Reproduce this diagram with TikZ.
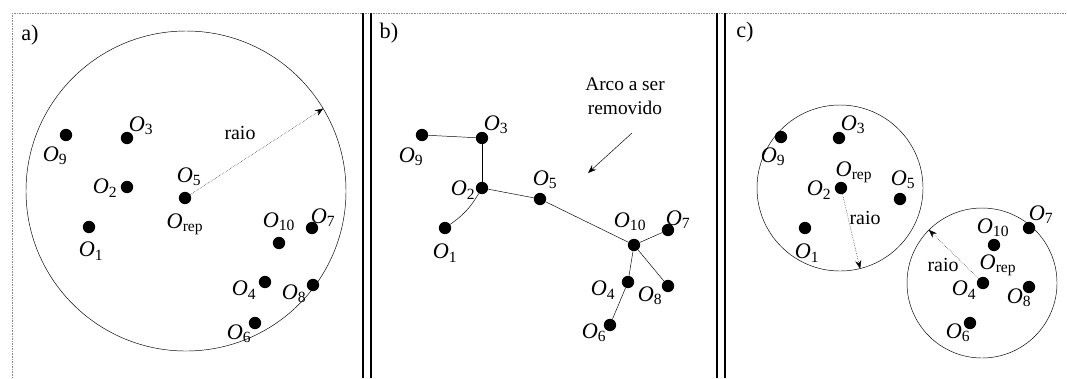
\documentclass[tikz,border=0pt]{standalone}
\usepackage{fontspec}
\setmainfont{Liberation Serif}
\usetikzlibrary{arrows.meta, positioning}
\newcommand{\objl}[1]{\textit{O}\textsubscript{#1}}
\tikzset{
  dot/.style={circle, fill=black, inner sep=0pt, minimum size=3.7mm},
  region/.style={circle, draw, thin, inner sep=0pt},
  olbl/.style={font=\fontsize{19}{21}\selectfont, inner sep=0pt},
  panel/.style={font=\fontsize{19}{21}\selectfont, inner sep=0pt},
  note/.style={font=\fontsize{16.5}{20}\selectfont, inner sep=0pt, align=center},
  raiolbl/.style={font=\fontsize{17}{19}\selectfont, inner sep=0pt},
  arc/.style={thin, black},
  raio/.style={-{Stealth[length=2.5mm]}, densely dotted},
  pointer/.style={-{Stealth[length=2.5mm]}, thin},
  divider/.style={line width=1pt, black},
  edge/.style={densely dotted, black!45, thin}
}
\begin{document}
\begin{tikzpicture}[x=0.03cm, y=-0.03cm]
  \useasboundingbox (0,0) rectangle (1067,378);
  % page frame and dividers
  \draw[edge] (12,13) -- (1067,13);
  \draw[edge] (12,13) -- (12,378);
  \draw[divider, line width=1.4pt] (363,13) -- (363,378);
  \draw[divider] (371,13) -- (371,378);
  \draw[divider, line width=1.4pt] (717,13) -- (717,378);
  \draw[divider] (725,13) -- (725,378);

  % a) single cluster
  \node[panel] (pa) at (30,35) {a)};
  \node[region, minimum size=9.6cm] (ca) at (186,191) {};
  \node[dot] (a9) at (66,135) {};
  \node[dot] (a3) at (127,138) {};
  \node[dot] (a2) at (127,187) {};
  \node[dot] (a5) at (185,198) {};
  \node[dot] (a1) at (89,227) {};
  \node[dot] (a10) at (279,243) {};
  \node[dot] (a7) at (312,228) {};
  \node[dot] (a4) at (265,282) {};
  \node[dot] (a8) at (313,285) {};
  \node[dot] (a6) at (255,323) {};
  \node[olbl] at (55,156) {\objl{9}};
  \node[olbl] at (141,126) {\objl{3}};
  \node[olbl] at (105,188) {\objl{2}};
  \node[olbl] at (189,177) {\objl{5}};
  \node[olbl] at (185,224) {\objl{rep}};
  \node[olbl] at (91,251) {\objl{1}};
  \node[olbl] at (279,222) {\objl{10}};
  \node[olbl] at (323,218) {\objl{7}};
  \node[olbl] at (244,290) {\objl{4}};
  \node[olbl] at (294,294) {\objl{8}};
  \node[olbl] at (239,334) {\objl{6}};
  \draw[raio] (a5) -- (ca.31.5);
  \node[raiolbl] at (240,133) {raio};

  % b) minimum spanning tree
  \node[panel] (pb) at (389,33) {b)};
  \node[dot] (b9) at (422,135) {};
  \node[dot] (b3) at (482,138) {};
  \node[dot] (b2) at (482,188) {};
  \node[dot] (b5) at (540,199) {};
  \node[dot] (b1) at (445,228) {};
  \node[dot] (b10) at (634,245) {};
  \node[dot] (b7) at (668,230) {};
  \node[dot] (b4) at (628,282) {};
  \node[dot] (b8) at (668,286) {};
  \node[dot] (b6) at (610,325) {};
  \node[olbl] at (411,157) {\objl{9}};
  \node[olbl] at (496,125) {\objl{3}};
  \node[olbl] at (463,190) {\objl{2}};
  \node[olbl] at (545,180) {\objl{5}};
  \node[olbl] at (445,253) {\objl{1}};
  \node[olbl] at (630,222) {\objl{10}};
  \node[olbl] at (678,220) {\objl{7}};
  \node[olbl] at (603,290) {\objl{4}};
  \node[olbl] at (650,296) {\objl{8}};
  \node[olbl] at (594,333) {\objl{6}};
  \draw[arc] (b9) -- (b3);
  \draw[arc] (b3) -- (b2);
  \draw[arc] (b2) to[bend left=12] (b1);
  \draw[arc] (b2) -- (b5);
  \draw[arc] (b5) -- (b10);
  \draw[arc] (b10) -- (b7);
  \draw[arc] (b10) -- (b4);
  \draw[arc] (b10) -- (b8);
  \draw[arc] (b4) -- (b6);
  \node[note] (rm) at (625,96) {Arco a ser\\removido};
  \draw[pointer] (632,133) -- (588,173);

  % c) two clusters after removal
  \node[panel] (pc) at (745,32) {c)};
  \node[region, minimum size=4.98cm] (c1) at (840,188) {};
  \node[region, minimum size=4.5cm] (c2) at (982,283) {};
  \node[dot] (c9) at (781,137) {};
  \node[dot] (c3) at (839,138) {};
  \node[dot] (c2r) at (841,188) {};
  \node[dot] (c5) at (900,199) {};
  \node[dot] (c1r) at (805,228) {};
  \node[dot] (c10) at (994,245) {};
  \node[dot] (c7) at (1029,228) {};
  \node[dot] (c4) at (983,283) {};
  \node[dot] (c8) at (1029,287) {};
  \node[dot] (c6) at (970,323) {};
  \node[olbl] at (773,157) {\objl{9}};
  \node[olbl] at (853,125) {\objl{3}};
  \node[olbl] at (819,190) {\objl{2}};
  \node[olbl] at (854,172) {\objl{rep}};
  \node[olbl] at (903,180) {\objl{5}};
  \node[olbl] at (807,253) {\objl{1}};
  \node[olbl] at (993,228) {\objl{10}};
  \node[olbl] at (1041,215) {\objl{7}};
  \node[olbl] at (964,290) {\objl{4}};
  \node[olbl] at (998,265) {\objl{rep}};
  \node[olbl] at (1019,298) {\objl{8}};
  \node[olbl] at (958,333) {\objl{6}};
  \draw[raio] (c2r) -- (c1.-76.6);
  \node[raiolbl] at (865,218) {raio};
  \draw[raio] (c4) -- (c2.135.5);
  \node[raiolbl] at (943,265) {raio};
\end{tikzpicture}
\end{document}
